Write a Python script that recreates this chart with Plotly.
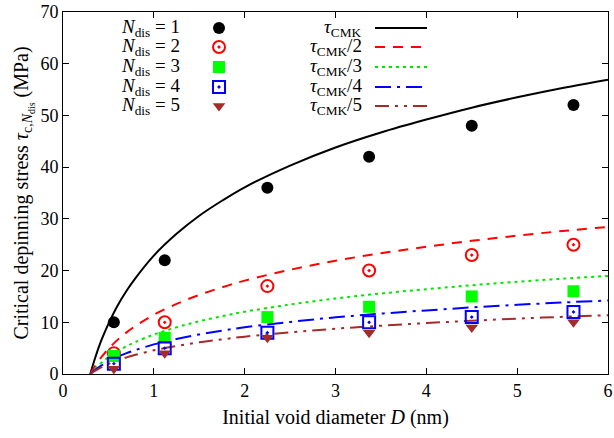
import plotly.graph_objects as go

# ---------------- data ----------------
D_points = [0.56, 1.12, 2.25, 3.37, 4.5, 5.62]
tau_n1 = [10, 22, 36, 42, 48, 52]
tau_n2 = [4, 10, 17, 20, 23, 25]
tau_n3 = [3.5, 7, 11, 13, 15, 16]
tau_n4 = [2, 5, 8, 10, 11, 12]
tau_n5 = [1, 4, 7, 8, 9, 10]

D_curve = [0.3, 0.35, 0.4, 0.45, 0.5, 0.6, 0.7, 0.8, 1.0, 1.25, 1.5, 1.75,
           2.0, 2.5, 3.0, 3.5, 4.0, 4.5, 5.0, 5.5, 6.0]
tau_cmk = [0.0, 2.9, 5.5, 7.7, 9.7, 13.2, 16.1, 18.6, 22.9, 27.1, 30.6, 33.5,
           36.1, 40.3, 43.8, 46.7, 49.2, 51.5, 53.5, 55.3, 56.9]
divisors = [1, 2, 3, 4, 5]

x_ticks = [0, 1, 2, 3, 4, 5, 6]
y_ticks = [0, 10, 20, 30, 40, 50, 60, 70]

point_labels = ["<i>N</i><sub>dis</sub> = 1", "<i>N</i><sub>dis</sub> = 2",
                "<i>N</i><sub>dis</sub> = 3", "<i>N</i><sub>dis</sub> = 4",
                "<i>N</i><sub>dis</sub> = 5"]
curve_labels = ["<i>τ</i><sub>CMK</sub>", "<i>τ</i><sub>CMK</sub>/2",
                "<i>τ</i><sub>CMK</sub>/3", "<i>τ</i><sub>CMK</sub>/4",
                "<i>τ</i><sub>CMK</sub>/5"]

# ---------------- styles ----------------
FONT = "Liberation Serif"
FS = 20
FS_LEG = 19
line_colors = ["#000000", "#ff0000", "#00e600", "#0000ff", "#a52a2a"]
line_dashes = ["solid", "10px,8px", "3px,4px", "16px,6px,3px,6px",
               "14px,6px,3px,6px,3px,6px"]
mk = [
    dict(symbol="circle", size=12, color="#000000"),
    dict(symbol="circle-open-dot", size=12, color="#ff0000", line=dict(width=2)),
    dict(symbol="square", size=12, color="#00ff00"),
    dict(symbol="square-open-dot", size=12, color="#0000ff", line=dict(width=2)),
    dict(symbol="triangle-down", size=11, color="#a52a2a"),
]
series = [tau_n1, tau_n2, tau_n3, tau_n4, tau_n5]

fig = go.Figure()

for n, c, d in zip(divisors, line_colors, line_dashes):
    fig.add_trace(go.Scatter(
        x=D_curve, y=[v / n for v in tau_cmk], mode="lines",
        line=dict(color=c, width=2, dash=d, shape="spline"),
        showlegend=False, hoverinfo="skip"))

for s, m in zip(series, mk):
    fig.add_trace(go.Scatter(x=D_points, y=s, mode="markers", marker=m,
                             showlegend=False))

# ---------------- layout geometry (page pixels) ----------
L, R, T, B = 63, 608, 12, 374
W, H = R - L, B - T
FIG_W, FIG_H = 614, 438


def px(xp):
    return (xp - L) / W


def py(yp):
    return (B - yp) / H


row_y = [28, 47, 67, 87, 106]
key_x1 = 219
text1_right = 182
text2_right = 364
line_x0, line_x1 = 375, 427

for i, m in enumerate(mk):
    fig.add_trace(go.Scatter(x=[px(key_x1)], y=[py(row_y[i])], mode="markers",
                             marker=m, xaxis="x2", yaxis="y2",
                             showlegend=False, hoverinfo="skip"))

annotations = []
shapes = []
for i in range(5):
    annotations.append(dict(x=px(text1_right), y=py(row_y[i]), xref="paper",
                            yref="paper", text=point_labels[i], showarrow=False,
                            xanchor="right", yanchor="middle",
                            font=dict(family=FONT, size=FS_LEG, color="black")))
    annotations.append(dict(x=px(text2_right), y=py(row_y[i]), xref="paper",
                            yref="paper", text=curve_labels[i], showarrow=False,
                            xanchor="right", yanchor="middle",
                            font=dict(family=FONT, size=FS_LEG, color="black")))
    shapes.append(dict(type="line", xref="paper", yref="paper",
                       x0=px(line_x0), x1=px(line_x1), y0=py(row_y[i]),
                       y1=py(row_y[i]),
                       line=dict(color=line_colors[i], width=2,
                                 dash=line_dashes[i])))

axis_common = dict(showline=True, linecolor="black", linewidth=1, mirror="ticks",
                   ticks="inside", ticklen=6, tickcolor="black", tickwidth=1,
                   showgrid=False, zeroline=False, automargin=False,
                   ticklabeloverflow="allow",
                   tickfont=dict(family=FONT, size=18, color="black"))

fig.update_layout(
    width=FIG_W, height=FIG_H,
    margin=dict(l=L, r=FIG_W - R, t=T, b=FIG_H - B),
    paper_bgcolor="white", plot_bgcolor="white",
    xaxis=dict(range=[0, 6], tickvals=x_ticks, ticktext=[str(v) for v in x_ticks],
               title=dict(text="Initial void diameter <i>D</i> (nm)",
                          font=dict(family=FONT, size=FS, color="black"),
                          standoff=10),
               **axis_common),
    yaxis=dict(range=[0, 70], tickvals=y_ticks, ticktext=[str(v) for v in y_ticks],
               title=dict(text="Critical depinning stress <i>τ</i><sub>c,<i>N</i><sub>dis</sub></sub> (MPa)",
                          font=dict(family=FONT, size=FS, color="black"),
                          standoff=6),
               **axis_common),
    xaxis2=dict(range=[0, 1], overlaying="x", visible=False, anchor="y2"),
    yaxis2=dict(range=[0, 1], overlaying="y", visible=False, anchor="x2"),
    annotations=annotations,
    shapes=shapes,
    showlegend=False,
)

fig.write_html("out.html",
               config={"displayModeBar": False},
               post_script="document.body.style.margin='0';"
                           "document.body.style.overflow='hidden';")
